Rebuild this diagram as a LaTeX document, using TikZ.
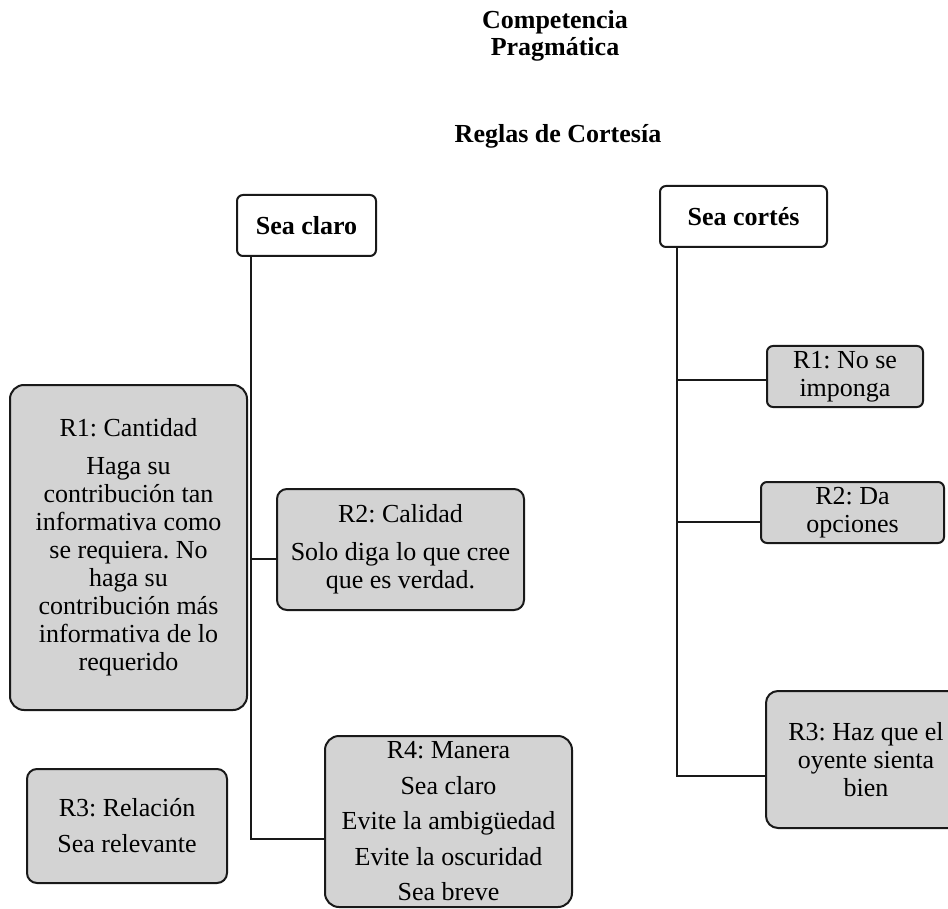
\documentclass[tikz,border=0pt]{standalone}
\usepackage{fontspec}
\setmainfont{Liberation Serif}
\definecolor{CortGray}{RGB}{211,211,211}
\definecolor{CortLine}{RGB}{25,25,25}
\usetikzlibrary{positioning, calc}
\tikzset{
  head/.style={rectangle, rounded corners=3pt, draw=CortLine, fill=white,
    line width=1pt, align=center, font=\bfseries, inner sep=0pt,
    minimum height=30.5pt},
  regla/.style={rectangle, rounded corners=5pt, draw=CortLine, fill=CortGray,
    line width=1pt, align=center, inner sep=0pt},
  link/.style={line width=1pt, draw=CortLine}
}

\begin{document}
\frenchspacing
\fontsize{13}{14}\selectfont
\begin{tikzpicture}[x=0.5pt, y=-0.5pt]
  \clip (0,0) rectangle (948,909);
  \node[font=\bfseries, align=center] (comp) at (555,36)
    {Competencia\\[-0.5pt]Pragmática};
  \node[font=\bfseries] (cortesia) at (558,136) {Reglas de Cortesía};
  % Sea claro
  \node[head, minimum width=69.5pt] (claro) at (306.5,225.5) {Sea claro};
  \node[regla, rounded corners=7pt, minimum width=118.5pt, minimum height=162.5pt]
    (cant) at (128.5,547.5)
    {R1: Cantidad\\[5pt]Haga su\\contribución tan\\informativa como\\se requiera. No\\haga su\\contribución más\\informativa de lo\\requerido};
  \node[regla, minimum width=123.5pt, minimum height=60.5pt] (cal) at (400.5,549.5)
    {R2: Calidad\\[5pt]Solo diga lo que cree\\que es verdad.};
  \node[regla, minimum width=100pt, minimum height=57pt] (rel) at (127,826)
    {R3: Relación\\[4pt]Sea relevante};
  \node[regla, rounded corners=7pt, minimum width=123.5pt, minimum height=85.5pt]
    (man) at (448.5,821.5)
    {R4: Manera\\[3.75pt]Sea claro\\[3.75pt]Evite la ambigüedad\\[3.75pt]Evite la oscuridad\\[3.75pt]Sea breve};
  % Sea cortes
  \node[head, minimum width=83.5pt] (cortes) at (743.5,216.5) {Sea cortés};
  \node[regla, rounded corners=3pt, minimum width=78pt, minimum height=30.5pt]
    (imp) at (845,376.5) {R1: No se\\imponga};
  \node[regla, rounded corners=3pt, minimum width=91.5pt, minimum height=30.5pt]
    (opc) at (852.5,512.5) {R2: Da\\opciones};
  \node[regla, rounded corners=6pt, minimum width=100pt, minimum height=68.5pt]
    (oye) at (866,759.5) {R3: Haz que el\\oyente sienta\\bien};
  % lineas
  \coordinate (lspine) at ($(claro.south west)+(15,0)$);
  \coordinate (calin) at ($(cal.west)+(0,9)$);
  \coordinate (manin) at ($(man.west)+(0,17)$);
  \draw[link] (lspine) |- (manin);
  \draw[link] (calin) -- (calin -| lspine);
  \coordinate (rspine) at ($(cortes.south west)+(18,0)$);
  \coordinate (impin) at ($(imp.west)+(0,3.5)$);
  \coordinate (opcin) at ($(opc.west)+(0,9.5)$);
  \coordinate (oyein) at ($(oye.west)+(0,16.5)$);
  \draw[link] (rspine) |- (oyein);
  \draw[link] (impin) -- (impin -| rspine);
  \draw[link] (opcin) -- (opcin -| rspine);
\end{tikzpicture}
\end{document}
